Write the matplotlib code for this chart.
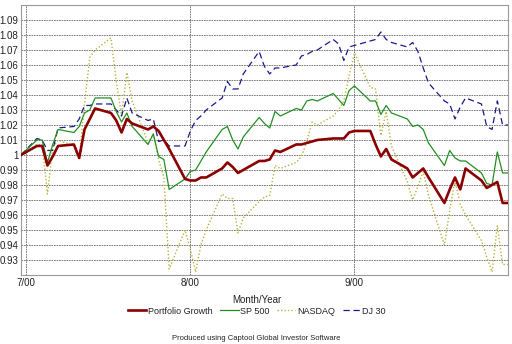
import numpy as np
import pandas as pd
import matplotlib
matplotlib.use('Agg')
import matplotlib.pyplot as plt

plt.rcParams['font.family'] = ['Liberation Sans', 'DejaVu Sans']

# weekdays 6/30/00 .. 9/29/00, plus 9/30 month end
dates = list(pd.bdate_range('2000-06-30', '2000-09-29')) + [pd.Timestamp('2000-09-30')]

portfolio = [1.000,
             1.006, 1.006, 0.993, 0.999, 1.006,
             1.007, 0.998, 1.017, 1.024, 1.031,
             1.028, 1.023, 1.015, 1.024, 1.021,
             1.017, 1.019, 1.016, 1.010, 1.004,
             0.984,
             0.983, 0.983, 0.985, 0.985,
             0.991, 0.995, 0.992, 0.988, 0.990,
             0.996, 0.996, 0.997, 1.003, 1.002,
             1.007, 1.007, 1.008, 1.009, 1.010,
             1.011, 1.011, 1.011, 1.015,
             1.016, 1.016, 1.007, 0.999, 1.004, 0.997,
             0.991, 0.985, 0.988, 0.991, 0.985,
             0.968, 0.977, 0.985, 0.977, 0.991,
             0.983, 0.978, 0.980, 0.982, 0.968, 0.968]

sp500 = [1.000,
         1.010, 1.010, 0.995, 1.007, 1.017,
         1.015, 1.019, 1.028, 1.030, 1.038,
         1.038, 1.029, 1.022, 1.028, 1.019,
         1.007, 1.014, 0.999, 0.997, 0.977,
         0.984,
         0.989, 0.990, 0.996, 1.002,
         1.017, 1.019, 1.010, 1.004, 1.012,
         1.025, 1.021, 1.018, 1.029, 1.026,
         1.031, 1.030, 1.036, 1.037, 1.036,
         1.041, 1.037, 1.033, 1.043,
         1.046, 1.036, 1.036, 1.027, 1.033, 1.028,
         1.024, 1.019, 1.020, 1.017, 1.008,
         0.993, 1.003, 0.998, 0.996, 0.996,
         0.988, 0.981, 0.980, 1.002, 0.988, 0.988]

nasdaq = [1.000,
          1.007, 1.007, 0.974, 1.005, 1.010,
          1.006, 0.997, 1.034, 1.065, 1.070,
          1.078, 1.049, 1.026, 1.055, 1.036,
          1.008, 1.014, 0.997, 0.985, 0.924,
          0.950,
          0.937, 0.922, 0.940, 0.950,
          0.974, 0.971, 0.971, 0.948, 0.958,
          0.969, 0.972, 0.973, 0.993, 0.991,
          0.995, 0.999, 1.009, 1.022, 1.020,
          1.026, 1.030, 1.036, 1.053,
          1.068, 1.045, 1.044, 1.013, 1.029, 1.006,
          0.982, 0.970, 0.979, 0.989, 0.973,
          0.940, 0.963, 0.983, 0.967, 0.960,
          0.943, 0.932, 0.922, 0.953, 0.927, 0.927]

dj30 = [1.000,
        1.011, 1.010, 1.003, 1.003, 1.018,
        1.019, 1.024, 1.033, 1.033, 1.034,
        1.034, 1.030, 1.026, 1.038, 1.028,
        1.023, 1.024, 1.009, 1.010, 1.006,
        1.006,
        1.016, 1.023, 1.026, 1.030,
        1.038, 1.049, 1.044, 1.044, 1.054,
        1.069, 1.059, 1.054, 1.058, 1.058,
        1.060, 1.066, 1.067, 1.069, 1.070,
        1.077, 1.074, 1.063, 1.072,
        1.073, 1.076, 1.077, 1.082, 1.077, 1.075,
        1.072, 1.075, 1.069, 1.058, 1.048,
        1.036, 1.034, 1.024, 1.032, 1.038,
        1.034, 1.019, 1.017, 1.036, 1.020, 1.020]

yticks = [0.93, 0.94, 0.95, 0.96, 0.97, 0.98, 0.99, 1.0,
          1.01, 1.02, 1.03, 1.04, 1.05, 1.06, 1.07, 1.08, 1.09]
month_ticks = ['2000-07-01', '2000-08-01', '2000-09-01']
month_labels = ['7/00', '8/00', '9/00']

fig = plt.figure(figsize=(5.12, 3.44), dpi=100)
ax = fig.add_axes([0.041, 0.2006, 0.951, 0.785])

ax.plot(dates, portfolio, color='#8b0000', lw=1.9, label='Portfolio Growth', zorder=5)
ax.plot(dates, sp500, color='#229022', lw=0.9, label='SP 500', zorder=4)
ax.plot(dates, nasdaq, color='#b4b440', lw=1.0, linestyle=(0, (1, 1.5)), label='NASDAQ', zorder=3)
ax.plot(dates, dj30, color='#1a1a8c', lw=0.9, linestyle=(0, (5, 3)), label='DJ 30', zorder=3)

ax.set_xlim(pd.Timestamp('2000-06-30'), pd.Timestamp('2000-09-30'))
ax.set_ylim(0.92, 1.10)
ax.set_yticks(yticks)
ax.set_yticklabels(['%g' % v for v in yticks])
ax.set_xticks([pd.Timestamp(d) for d in month_ticks])
ax.set_xticklabels(month_labels)
ax.tick_params(length=0, labelsize=7, colors='#222222', pad=2)
ax.grid(True, color='#666666', linestyle=(0, (2, 1)), lw=0.6)
ax.set_axisbelow(True)
for s in ax.spines.values():
	s.set_color('#999999')
	s.set_linewidth(0.8)

fig.text(0.502, 1 - 300/344, 'Month/Year', ha='center', va='center', fontsize=7, color='#222222')
fig.legend(loc='center', bbox_to_anchor=(0.502, 1 - 311/344), ncol=4, frameon=False,
           fontsize=6.5, handlelength=2.0, handletextpad=0.15, columnspacing=0.9,
           borderpad=0, labelcolor='#222222')
fig.text(0.5, 1 - 338/344, 'Produced using Captool Global Investor Software',
         ha='center', va='center', fontsize=5.5, color='#222222')

fig.savefig('out.png', dpi=100)
